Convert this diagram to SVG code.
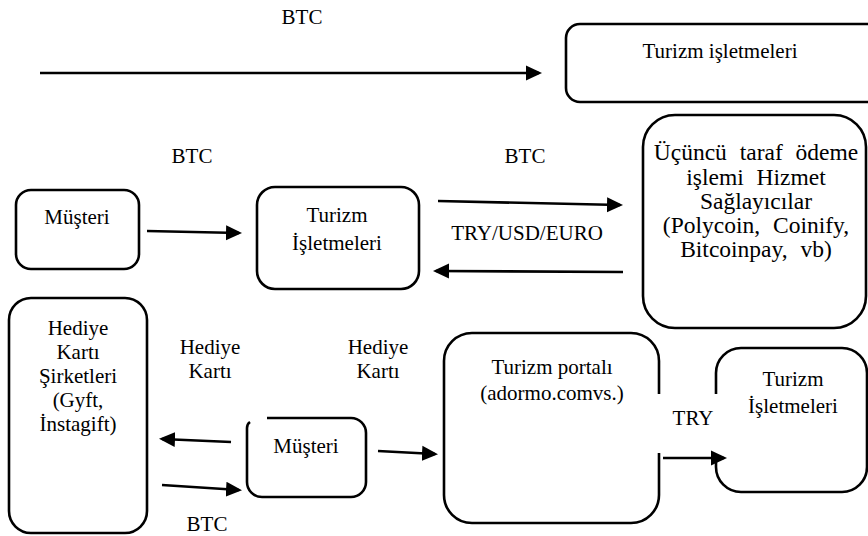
<svg xmlns="http://www.w3.org/2000/svg" width="868" height="536" viewBox="0 0 868 536">
<defs>
<style>
.box{fill:none;stroke:#000;stroke-width:2.6;stroke-linejoin:round}
.edge{fill:none;stroke:#000;stroke-width:2.6}
.t{font-family:'Liberation Serif','DejaVu Serif',serif;font-size:21px;fill:#000;text-anchor:middle}
.w{font-size:23.5px;word-spacing:7px}
</style>
<marker id="ah" markerUnits="userSpaceOnUse" markerWidth="16" markerHeight="16" viewBox="0 0 16 16" refX="13" refY="8" orient="auto">
<path d="M0,0.5 L16,8 L0,15.5 z" fill="#000"/>
</marker>
</defs>
<rect width="868" height="536" fill="#fff"/>

<g id="connectors">
<line class="edge" x1="40" y1="73" x2="539" y2="73" marker-end="url(#ah)"/>
<line class="edge" x1="147" y1="231" x2="239" y2="233" marker-end="url(#ah)"/>
<line class="edge" x1="438" y1="201" x2="620" y2="205" marker-end="url(#ah)"/>
<line class="edge" x1="623" y1="272" x2="436" y2="271" marker-end="url(#ah)"/>
<line class="edge" x1="231" y1="442" x2="162" y2="439" marker-end="url(#ah)"/>
<line class="edge" x1="162" y1="485" x2="239" y2="490" marker-end="url(#ah)"/>
<line class="edge" x1="378" y1="451" x2="435" y2="454" marker-end="url(#ah)"/>
<line class="edge" x1="663" y1="458" x2="724" y2="458" marker-end="url(#ah)"/>
</g>

<g id="labels">
<text class="t" x="302" y="24">BTC</text>
<text class="t" x="192" y="163">BTC</text>
<text class="t" x="525" y="163">BTC</text>
<text class="t" x="527" y="240">TRY/USD/EURO</text>
<text class="t" x="210" y="354">Hediye</text>
<text class="t" x="210" y="378">Kartı</text>
<text class="t" x="378" y="354">Hediye</text>
<text class="t" x="378" y="378">Kartı</text>
<text class="t" x="207" y="531">BTC</text>
<text class="t" x="693" y="425">TRY</text>
</g>

<g id="turizm-isletmeleri-top">
<rect class="box" x="566" y="24" width="330" height="78" rx="14"/>
<text class="t" x="720" y="58">Turizm işletmeleri</text>
</g>

<g id="musteri-1">
<rect class="box" x="16" y="190" width="123" height="79" rx="15"/>
<text class="t" x="77" y="224">Müşteri</text>
</g>

<g id="turizm-isletmeleri-1">
<rect class="box" x="257" y="187" width="162" height="102" rx="18"/>
<text class="t" x="337" y="222">Turizm</text>
<text class="t" x="337" y="250">İşletmeleri</text>
</g>

<g id="ucuncu-taraf">
<rect class="box" x="643" y="115" width="223" height="213" rx="32"/>
<text class="t w" x="756" y="160">Üçüncü taraf ödeme</text>
<text class="t w" x="756" y="185">işlemi Hizmet</text>
<text class="t w" x="756" y="209">Sağlayıcılar</text>
<text class="t w" x="756" y="233">(Polycoin, Coinify,</text>
<text class="t w" x="756" y="257">Bitcoinpay, vb)</text>
</g>

<g id="hediye-karti-sirketleri">
<rect class="box" x="9" y="298" width="138" height="235" rx="22"/>
<text class="t" x="78" y="335">Hediye</text>
<text class="t" x="78" y="359">Kartı</text>
<text class="t" x="78" y="383">Şirketleri</text>
<text class="t" x="78" y="407">(Gyft,</text>
<text class="t" x="78" y="431">İnstagift)</text>
</g>

<g id="musteri-2">
<path class="box" d="M267,418 H351 A15,15 0 0 1 366,433 V482 A15,15 0 0 1 351,497 H262 A15,15 0 0 1 247,482 V428 Q247,424 250,422"/>
<text class="t" x="306" y="453">Müşteri</text>
</g>

<g id="turizm-portali">
<path class="box" d="M659,394 V361 A28,28 0 0 0 631,333 H472 A28,28 0 0 0 444,361 V495 A28,28 0 0 0 472,523 H631 A28,28 0 0 0 659,495 V453"/>
<text class="t" x="552" y="374">Turizm portalı</text>
<text class="t" x="552" y="400">(adormo.comvs.)</text>
</g>

<g id="turizm-isletmeleri-2">
<path class="box" d="M716,394 V373 A25,25 0 0 1 741,348 H842 A25,25 0 0 1 867,373 V467 A25,25 0 0 1 842,492 H741 A25,25 0 0 1 716,467 V455"/>
<text class="t" x="793" y="386">Turizm</text>
<text class="t" x="793" y="413">İşletmeleri</text>
</g>
</svg>
